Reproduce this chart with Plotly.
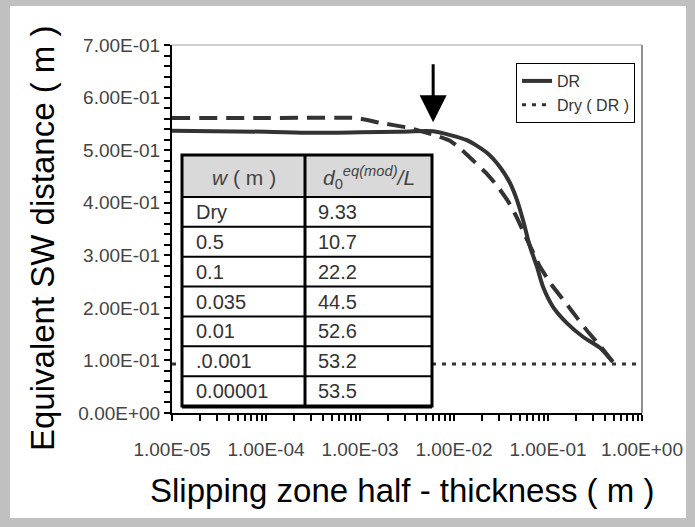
import math
import plotly.graph_objects as go

# ---------------- data ----------------
x_dr = [1e-5, 1e-4, 3e-4, 1e-3, 2.7e-3, 6.0e-3, 1.37e-2, 2.24e-2, 3.08e-2, 3.94e-2,
        4.68e-2, 5.42e-2, 6.44e-2, 7.64e-2, 8.85e-2, 0.113, 0.159, 0.235, 0.357, 0.49]
y_dr = [0.537, 0.535, 0.533, 0.534, 0.535, 0.536, 0.519, 0.495, 0.468, 0.4375,
        0.405, 0.367, 0.316, 0.278, 0.240, 0.202, 0.171, 0.145, 0.124, 0.097]

x_dash = [1e-5, 1e-4, 9.3e-4, 1.63e-3, 3.4e-3, 6.6e-3, 9.06e-3, 1.22e-2, 1.67e-2, 2.24e-2,
          2.94e-2, 3.75e-2, 4.57e-2, 5.56e-2, 6.76e-2, 8.22e-2, 0.110, 0.152, 0.204, 0.273,
          0.366, 0.48]
y_dash = [0.561, 0.561, 0.561, 0.552, 0.542, 0.527, 0.518, 0.500, 0.477, 0.455,
          0.430, 0.403, 0.375, 0.342, 0.310, 0.278, 0.243, 0.211, 0.181, 0.152,
          0.126, 0.099]

x_dry = [1e-5, 1.0]
y_dry = [0.0933, 0.0933]

x_decades = [1e-5, 1e-4, 1e-3, 1e-2, 1e-1, 1e0]
x_ticktext = ["1.00E-05", "1.00E-04", "1.00E-03", "1.00E-02", "1.00E-01", "1.00E+00"]
y_major = [0, 0.1, 0.2, 0.3, 0.4, 0.5, 0.6, 0.7]
y_ticktext = ["0.00E+00", "1.00E-01", "2.00E-01", "3.00E-01", "4.00E-01",
              "5.00E-01", "6.00E-01", "7.00E-01"]
y_minor_step = 0.02

table_header = ["<i>w</i> ( m )", "<i>d</i><sub>0</sub><sup><i>eq(mod)</i></sup><i>/L</i>"]
table_w = ["Dry", "0.5", "0.1", "0.035", "0.01", ".0.001", "0.00001"]
table_ratio = ["9.33", "10.7", "22.2", "44.5", "52.6", "53.2", "53.5"]

arrow_x = 0.006
arrow_y_tail = 0.666
arrow_y_head = 0.553

# ---------------- tick arrays (major + minor positions) ----------------
x_tickvals, x_labels = [], []
for i, dec in enumerate(x_decades):
    x_tickvals.append(dec)
    x_labels.append(x_ticktext[i])
    if i < len(x_decades) - 1:
        for d in range(2, 10):
            x_tickvals.append(d * dec)
            x_labels.append("")

y_tickvals, y_labels = [], []
n_steps = int(round(0.7 / y_minor_step))
for k in range(n_steps + 1):
    v = round(k * y_minor_step, 4)
    y_tickvals.append(v)
    lab = ""
    for mv, mt in zip(y_major, y_ticktext):
        if abs(mv - v) < 1e-9:
            lab = mt
    y_labels.append(lab)

# ---------------- layout geometry ----------------
W, H = 695, 527
L, R, T, B = 172, 53, 45, 114
PW, PH = W - L - R, H - T - B
FONT = "Arial"


def px(xp):
    return (xp - L) / PW


def py(yp):
    return (H - B - yp) / PH


fig = go.Figure()

fig.add_trace(go.Scatter(x=x_dash, y=y_dash, mode="lines", showlegend=False,
                         line=dict(color="#333333", width=4, dash="18px,9px", shape="spline",
                                   smoothing=0.4)))
fig.add_trace(go.Scatter(x=x_dr, y=y_dr, mode="lines", name="DR",
                         line=dict(color="#333333", width=4, shape="spline", smoothing=0.6)))
fig.add_trace(go.Scatter(x=x_dry, y=y_dry, mode="lines", name="Dry ( DR )",
                         line=dict(color="#333333", width=3, dash="4px,6px")))

shapes = []
shapes.append(dict(type="rect", xref="paper", yref="paper", layer="below",
                   x0=px(10), x1=px(686), y0=py(518), y1=py(6),
                   fillcolor="white", line=dict(width=0)))
shapes.append(dict(type="line", xref="paper", yref="paper", x0=0, x1=1, y0=1, y1=1,
                   line=dict(color="#a0a0a0", width=1)))
shapes.append(dict(type="line", xref="paper", yref="paper", x0=1, x1=1, y0=0, y1=1,
                   line=dict(color="#909090", width=2)))

# table
tx0, tx1, tmid = 182, 432, 305
ty0, thead, ty1 = 155, 197, 406
row_h = (ty1 - thead) / len(table_w)
shapes.append(dict(type="rect", xref="paper", yref="paper", layer="above",
                   x0=px(tx0), x1=px(tx1), y0=py(ty1), y1=py(ty0),
                   fillcolor="white", line=dict(width=0)))
shapes.append(dict(type="rect", xref="paper", yref="paper", layer="above",
                   x0=px(tx0), x1=px(tx1), y0=py(thead), y1=py(ty0),
                   fillcolor="#d9d9d9", line=dict(width=0)))
for k in range(1, len(table_w)):
    yy = thead + k * row_h
    shapes.append(dict(type="line", xref="paper", yref="paper", layer="above",
                       x0=px(tx0), x1=px(tx1), y0=py(yy), y1=py(yy),
                       line=dict(color="black", width=2)))
shapes.append(dict(type="line", xref="paper", yref="paper", layer="above",
                   x0=px(tx0), x1=px(tx1), y0=py(thead), y1=py(thead),
                   line=dict(color="black", width=2)))
shapes.append(dict(type="line", xref="paper", yref="paper", layer="above",
                   x0=px(tmid), x1=px(tmid), y0=py(ty1), y1=py(ty0),
                   line=dict(color="black", width=3)))
shapes.append(dict(type="rect", xref="paper", yref="paper", layer="above",
                   x0=px(tx0), x1=px(tx1), y0=py(ty1), y1=py(ty0),
                   fillcolor="rgba(0,0,0,0)", line=dict(color="black", width=3)))
shapes.append(dict(type="line", xref="paper", yref="paper", layer="above",
                   x0=px(tx0), x1=px(tx1), y0=py(ty1 + 1), y1=py(ty1 + 1),
                   line=dict(color="black", width=3)))

annotations = []
annotations.append(dict(xref="paper", yref="paper", x=px((tx0 + tmid) / 2), y=py(177),
                        text=table_header[0], showarrow=False, xanchor="center", yanchor="middle",
                        font=dict(family=FONT, size=21, color="#444444")))
annotations.append(dict(xref="paper", yref="paper", x=px((tmid + tx1) / 2), y=py(177),
                        text=table_header[1], showarrow=False, xanchor="center", yanchor="middle",
                        font=dict(family=FONT, size=21, color="#444444")))
for k, (a, b) in enumerate(zip(table_w, table_ratio)):
    yc = thead + (k + 0.5) * row_h
    annotations.append(dict(xref="paper", yref="paper", x=px(194), y=py(yc), text=a,
                            showarrow=False, xanchor="left", yanchor="middle",
                            font=dict(family=FONT, size=20, color="#333333")))
    annotations.append(dict(xref="paper", yref="paper", x=px(316), y=py(yc), text=b,
                            showarrow=False, xanchor="left", yanchor="middle",
                            font=dict(family=FONT, size=20, color="#333333")))

annotations.append(dict(x=math.log10(arrow_x), y=arrow_y_head, ax=math.log10(arrow_x),
                        ay=arrow_y_tail, xref="x", yref="y", axref="x", ayref="y",
                        text="", showarrow=True, arrowhead=2, arrowsize=1.8, arrowwidth=3,
                        arrowcolor="black"))

annotations.append(dict(xref="paper", yref="paper", x=px(402), y=py(490),
                        text="Slipping zone half - thickness ( m )", showarrow=False,
                        xanchor="center", yanchor="middle",
                        font=dict(family=FONT, size=33, color="black")))
annotations.append(dict(xref="paper", yref="paper", x=px(43), y=py(238),
                        text="Equivalent SW distance ( m )", showarrow=False, textangle=-90,
                        xanchor="center", yanchor="middle",
                        font=dict(family=FONT, size=33, color="black")))

fig.update_layout(
    width=W, height=H, autosize=False,
    margin=dict(l=L, r=R, t=T, b=B, pad=0),
    paper_bgcolor="#c0c0c0", plot_bgcolor="white",
    font=dict(family=FONT),
    shapes=shapes, annotations=annotations,
    legend=dict(x=px(516), y=py(63), xanchor="left", yanchor="top",
                bordercolor="black", borderwidth=1, bgcolor="white",
                font=dict(family=FONT, size=16, color="#333333"), tracegroupgap=0),
    xaxis=dict(type="log", range=[-5, 0], tickmode="array", tickvals=x_tickvals,
               ticktext=x_labels,
               showgrid=False, zeroline=False, showline=True, linecolor="black", linewidth=2,
               ticks="outside", ticklen=6, tickwidth=2, tickcolor="black",
               ticklabelstandoff=12,
               tickfont=dict(family=FONT, size=19, color="#444444")),
    yaxis=dict(range=[0, 0.7], tickmode="array", tickvals=y_tickvals, ticktext=y_labels,
               showgrid=False, zeroline=False, showline=True, linecolor="black", linewidth=2,
               ticks="outside", ticklen=6, tickwidth=2, tickcolor="black",
               tickfont=dict(family=FONT, size=19, color="#444444")),
)

fig.write_html("out.html")
